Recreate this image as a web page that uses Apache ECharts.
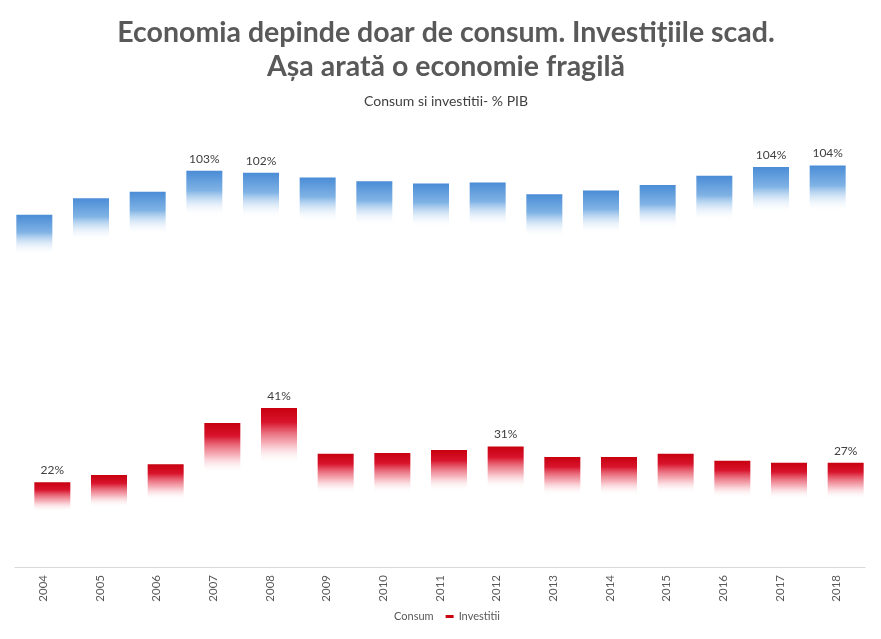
<!DOCTYPE html>
<html>
<head>
<meta charset="utf-8">
<script src="https://cdn.jsdelivr.net/npm/echarts@6/dist/echarts.min.js"></script>
<style>
html,body{margin:0;padding:0;background:#fff;}
#chart{width:881px;height:639px;}
</style>
</head>
<body>
<div id="chart"></div>
<script>
const years = ['2004','2005','2006','2007','2008','2009','2010','2011','2012','2013','2014','2015','2016','2017','2018'];
const consum = [91.5, 95.8, 97.5, 102.9, 102.4, 101.2, 100.2, 99.6, 99.9, 96.8, 97.8, 99.2, 101.6, 103.9, 104.3];
const investitii = [22.0, 23.9, 26.7, 37.4, 41.3, 29.4, 29.6, 30.4, 31.3, 28.6, 28.6, 29.4, 27.6, 27.1, 27.1];
const consumLabelYears = ['2007', '2008', '2017', '2018'];
const investitiiLabelYears = ['2004', '2008', '2012', '2018'];

const FONT = 'Lato, "Open Sans", sans-serif';

function withLabels(values, labelYears) {
  return values.map((v, i) => ({
    value: v,
    label: { show: labelYears.indexOf(years[i]) >= 0 }
  }));
}

const chart = echarts.init(document.getElementById('chart'));
chart.setOption({
  backgroundColor: '#ffffff',
  animation: false,
  title: [
    {
      text: 'Economia depinde doar de consum. Investițiile scad.',
      left: 441,
      top: 13,
      textAlign: 'center',
      textStyle: { fontFamily: FONT, fontSize: 28.5, fontWeight: 'bold', color: '#595959' }
    },
    {
      text: 'Așa arată o economie fragilă',
      left: 441,
      top: 47,
      textAlign: 'center',
      textStyle: { fontFamily: FONT, fontSize: 28.5, fontWeight: 'bold', color: '#595959' }
    },
    {
      text: 'Consum si investitii- % PIB',
      left: 441,
      top: 89,
      textAlign: 'center',
      textStyle: { fontFamily: FONT, fontSize: 14, fontWeight: 'normal', color: '#404040' }
    }
  ],
  legend: {
    bottom: 12,
    left: 'center',
    itemWidth: 8,
    itemHeight: 3,
    itemGap: 12,
    textStyle: { fontFamily: FONT, fontSize: 11, color: '#595959' },
    data: [
      { name: 'Consum', itemStyle: { color: 'rgba(255,255,255,0)' }, icon: 'rect' },
      { name: 'Investitii', itemStyle: { color: '#c8000f' }, icon: 'rect' }
    ]
  },
  grid: { left: 15, right: 16, top: 105, bottom: 72 },
  xAxis: {
    type: 'category',
    data: years,
    axisLine: { show: true, lineStyle: { color: '#d9d9d9', width: 1 } },
    axisTick: { show: false },
    axisLabel: { rotate: 90, fontFamily: FONT, fontSize: 11.5, color: '#595959', margin: 8 }
  },
  yAxis: {
    type: 'value',
    min: 0,
    max: 120,
    show: false,
    splitLine: { show: false }
  },
  series: [
    {
      name: 'Consum',
      type: 'bar',
      barWidth: 36,
      barGap: '-50%',
      data: withLabels(consum, consumLabelYears),
      itemStyle: {
        color: new echarts.graphic.LinearGradient(0, 0, 0, 1, [
          { offset: 0, color: '#4a8cd6' },
          { offset: 0.05, color: '#80b3e5' },
          { offset: 0.115, color: 'rgba(255,255,255,0)' },
          { offset: 1, color: 'rgba(255,255,255,0)' }
        ])
      },
      label: {
        position: 'top',
        distance: 6,
        formatter: p => Math.round(p.value) + '%',
        fontFamily: FONT, fontSize: 12, color: '#404040'
      }
    },
    {
      name: 'Investitii',
      type: 'bar',
      barWidth: 36,
      barGap: '-50%',
      data: withLabels(investitii, investitiiLabelYears),
      itemStyle: {
        color: new echarts.graphic.LinearGradient(0, 0, 0, 1, [
          { offset: 0, color: '#c8000f' },
          { offset: 0.09, color: '#d8142c' },
          { offset: 0.22, color: 'rgba(238,120,135,0.6)' },
          { offset: 0.35, color: 'rgba(255,255,255,0)' },
          { offset: 1, color: 'rgba(255,255,255,0)' }
        ])
      },
      label: {
        position: 'top',
        distance: 6,
        formatter: p => Math.round(p.value) + '%',
        fontFamily: FONT, fontSize: 12, color: '#404040'
      }
    }
  ]
});
</script>
</body>
</html>
